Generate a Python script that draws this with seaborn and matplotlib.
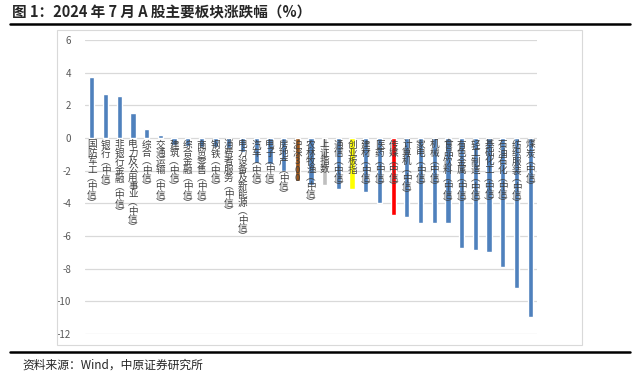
import matplotlib
matplotlib.use("Agg")
import matplotlib.pyplot as plt
import seaborn as sns
from matplotlib.lines import Line2D
from matplotlib.patches import Rectangle

# sector names and July 2024 returns (%)
sectors = ['国防军工(中信)', '银行(中信)', '非银行金融(中信)', '电力及公用事业(中信)', '综合(中信)',
           '交通运输(中信)', '建筑(中信)', '综合金融(中信)', '商贸零售(中信)', '钢铁(中信)',
           '消费者服务(中信)', '电力设备及新能源(中信)', '汽车(中信)', '电子(中信)', '房地产(中信)',
           '沪深300', '农林牧渔(中信)', '上证指数', '通信(中信)', '创业板指',
           '建材(中信)', '医药(中信)', '传媒(中信)', '计算机(中信)', '家电(中信)',
           '机械(中信)', '食品饮料(中信)', '有色金属(中信)', '轻工制造(中信)', '基础化工(中信)',
           '石油石化(中信)', '纺织服装(中信)', '煤炭(中信)']
returns = [3.75, 2.7, 2.55, 1.55, 0.55,
           0.2, -0.45, -0.5, -0.55, -0.55,
           -0.6, -0.85, -1.5, -1.6, -2.0,
           -2.65, -2.9, -2.9, -3.1, -3.1,
           -3.3, -4.0, -4.7, -4.85, -5.2,
           -5.2, -5.2, -6.75, -6.85, -6.95,
           -7.9, -9.2, -10.95]
highlight = {'沪深300': '#9c5518', '上证指数': '#bfbfbf', '创业板指': '#ffff00', '传媒(中信)': '#ff0000'}
colors = [highlight.get(s, '#4f81bd') for s in sectors]

sns.set_style("white")
plt.rcParams['font.family'] = ['Noto Sans CJK SC', 'DejaVu Sans']
plt.rcParams['axes.unicode_minus'] = False

fig = plt.figure(figsize=(6.34, 3.78), dpi=100)
ax = fig.add_axes([85 / 634, 1 - 334 / 378, 452 / 634, 294 / 378])

sns.barplot(x=sectors, y=returns, hue=sectors, palette=colors, legend=False,
            width=0.38, saturation=1, ax=ax)

ax.set_ylim(-12, 6)
ax.set_yticks(range(-12, 7, 2))
ax.set_xlim(-0.5, len(sectors) - 0.5)
ax.grid(axis='y', color='#d9d9d9', linewidth=0.9)
ax.set_axisbelow(True)
for sp in ax.spines.values():
    sp.set_visible(False)
ax.set_xticks([])
ax.set_xlabel('')
ax.tick_params(axis='y', length=0, labelsize=7, colors='#595959', pad=10)

# vertical category labels stacked below the zero line
for i, s in enumerate(sectors):
    txt = s.replace('(', '︵').replace(')', '︶')
    lab = '\n'.join(list(txt)) if not s.startswith('沪深') else '沪\n深\n3\n0\n0'
    ax.text(i, -0.15, lab, ha='center', va='top', fontsize=6.9, color='#404040',
            linespacing=0.9, zorder=5)

# chart frame, title and source
fig.add_artist(Rectangle((57 / 634, 1 - 345 / 378), 525 / 634, 315 / 378,
                         transform=fig.transFigure, fill=False, edgecolor='#d9d9d9', linewidth=0.8))
fig.add_artist(Line2D([10 / 634, 630 / 634], [1 - 24 / 378] * 2, color='black', linewidth=1.8))
fig.add_artist(Line2D([10 / 634, 630 / 634], [1 - 352 / 378] * 2, color='black', linewidth=1.8))
fig.text(12 / 634, 1 - 12 / 378, '图 1：2024 年 7 月 A 股主要板块涨跌幅（%）', fontsize=10.5,
         fontweight='bold', va='center', ha='left')
fig.text(22 / 634, 1 - 365 / 378, '资料来源：Wind，中原证券研究所', fontsize=8.5,
         va='center', ha='left')

fig.savefig('out.png', dpi=100)
